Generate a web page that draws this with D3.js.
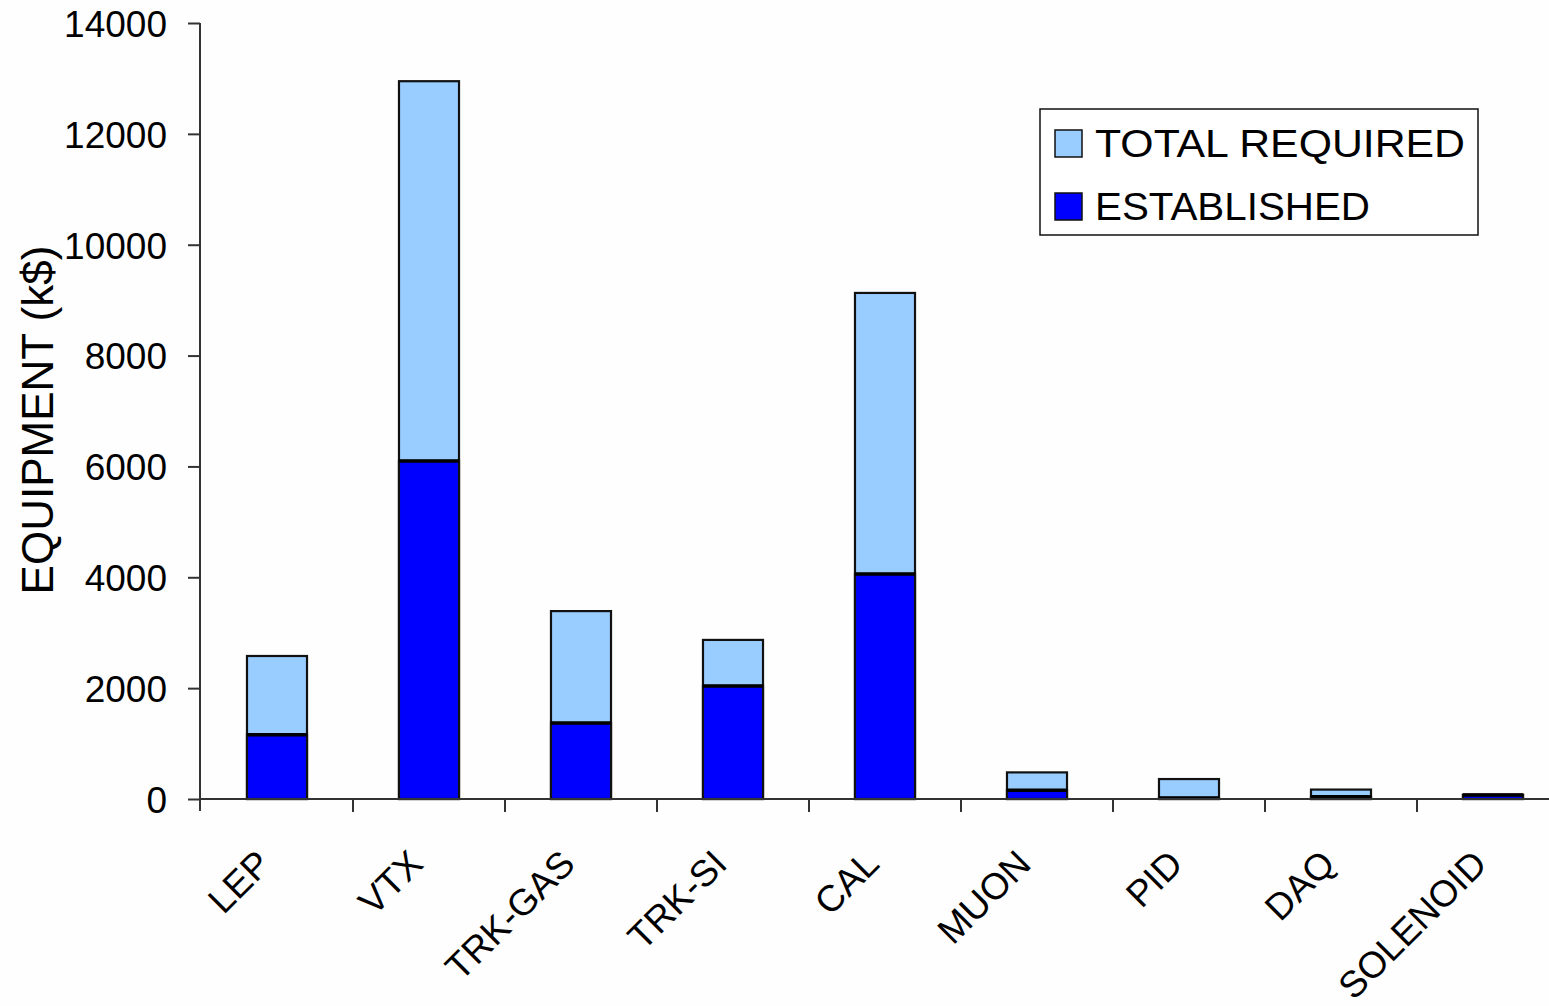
<!DOCTYPE html>
<html>
<head>
<meta charset="utf-8">
<script src="https://cdn.jsdelivr.net/npm/d3@7"></script>
<style>
  html, body { margin: 0; padding: 0; background: #fefefe; }
  svg { display: block; }
  text { font-family: "Liberation Sans", Arial, sans-serif; fill: #000; }
</style>
</head>
<body>
<svg id="chart" width="1549" height="1006"></svg>
<script>
// Equipment cost per subsystem, k$
const categories = ["LEP", "VTX", "TRK-GAS", "TRK-SI", "CAL", "MUON", "PID", "DAQ", "SOLENOID"];
const totalRequired = [2580, 12950, 3390, 2870, 9130, 480, 360, 170, 80];
const established   = [1160, 6100, 1370, 2040, 4060, 160, 20, 40, 70];
const yTicks = [0, 2000, 4000, 6000, 8000, 10000, 12000, 14000];
const seriesNames = ["TOTAL REQUIRED", "ESTABLISHED"];
const seriesColors = ["#99ccff", "#0000ff"];

const svg = d3.select("#chart");

const x = d3.scaleBand()
  .domain(categories)
  .range([201, 201 + 152 * categories.length])
  .paddingInner(0.605)
  .paddingOuter(0.3025);

const y = d3.scaleLinear().domain([0, 14000]).range([799, 23]);

// bars: total drawn first, established overlaid from the baseline
const series = [totalRequired, established];
series.forEach((vals, si) => {
  const g = svg.append("g");
  g.selectAll("rect")
    .data(categories)
    .join("rect")
    .attr("x", d => x(d))
    .attr("width", x.bandwidth())
    .attr("y", (d, i) => y(vals[i]))
    .attr("height", (d, i) => y(0) - y(vals[i]))
    .attr("fill", seriesColors[si])
    .attr("stroke", "#111")
    .attr("stroke-width", 2.2);
  if (si === 1) {
    // heavier edge where the established part meets the remainder
    g.selectAll("line")
      .data(categories)
      .join("line")
      .attr("x1", d => x(d)).attr("x2", d => x(d) + x.bandwidth())
      .attr("y1", (d, i) => y(vals[i])).attr("y2", (d, i) => y(vals[i]))
      .attr("stroke", "#000").attr("stroke-width", 3.5);
  }
});

// y axis
const yAxis = svg.append("g").attr("transform", "translate(200,0)")
  .call(d3.axisLeft(y).tickValues(yTicks).tickSize(12).tickFormat(d3.format("d")));
yAxis.select(".domain").remove();
yAxis.selectAll(".tick line").attr("stroke", "#333").attr("stroke-width", 2);
yAxis.selectAll(".tick text")
  .attr("x", -33)
  .attr("dy", "0.36em")
  .style("font-size", "37px")
  .style("font-family", "'Liberation Sans', Arial, sans-serif")
  .attr("fill", "#000");
svg.append("line")
  .attr("x1", 200).attr("x2", 200).attr("y1", y(14000)).attr("y2", 811)
  .attr("stroke", "#333").attr("stroke-width", 2);

// x axis with ticks between categories
svg.append("line")
  .attr("x1", 200).attr("x2", 1549).attr("y1", y(0)).attr("y2", y(0))
  .attr("stroke", "#333").attr("stroke-width", 2);
const step = x.step();
svg.append("g").selectAll("line")
  .data(categories.slice(1))
  .join("line")
  .attr("x1", d => x(d) - x.paddingOuter() * step)
  .attr("x2", d => x(d) - x.paddingOuter() * step)
  .attr("y1", y(0)).attr("y2", 812)
  .attr("stroke", "#333").attr("stroke-width", 2);

// rotated category labels
svg.append("g").selectAll("text")
  .data(categories)
  .join("text")
  .attr("transform", d => `translate(${x(d) + x.bandwidth() / 2 - 4},866) rotate(-45)`)
  .attr("text-anchor", "end")
  .style("font-size", "37px")
  .text(d => d);

// y axis title
svg.append("text")
  .attr("transform", "translate(53,420) rotate(-90)")
  .attr("text-anchor", "middle")
  .style("font-size", "44px")
  .text("EQUIPMENT (k$)");

// legend
const legend = svg.append("g");
legend.append("rect")
  .attr("x", 1040).attr("y", 109).attr("width", 438).attr("height", 126)
  .attr("fill", "#fff").attr("stroke", "#111").attr("stroke-width", 1.5);
const legendRows = [
  { name: seriesNames[0], color: seriesColors[0], top: 130, len: 370 },
  { name: seriesNames[1], color: seriesColors[1], top: 193, len: 275 }
];
legendRows.forEach(r => {
  legend.append("rect")
    .attr("x", 1055).attr("y", r.top).attr("width", 27).attr("height", 27)
    .attr("fill", r.color).attr("stroke", "#111").attr("stroke-width", 1.5);
  legend.append("text")
    .attr("x", 1095).attr("y", r.top + 27)
    .attr("textLength", r.len)
    .attr("lengthAdjust", "spacingAndGlyphs")
    .style("font-size", "38px")
    .text(r.name);
});
</script>
</body>
</html>
